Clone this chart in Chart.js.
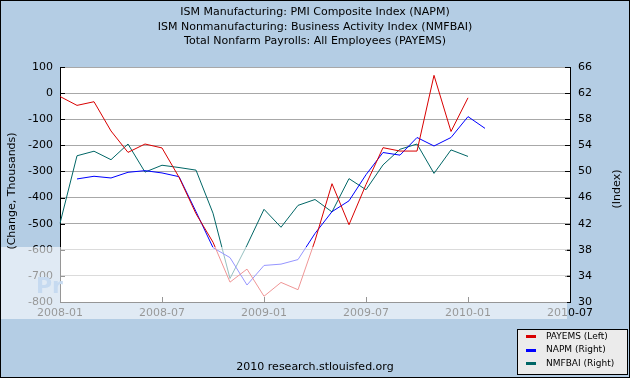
<!DOCTYPE html>
<html><head><meta charset="utf-8">
<script src="https://cdn.jsdelivr.net/npm/chart.js@4/dist/chart.umd.min.js"></script>
<style>html,body{margin:0;padding:0;background:#B4CDE4;}canvas{display:block}</style>
</head><body>
<canvas id="c" width="630" height="378"></canvas>
<script>
const months = ['2008-01','2008-02','2008-03','2008-04','2008-05','2008-06','2008-07','2008-08','2008-09','2008-10','2008-11','2008-12',
'2009-01','2009-02','2009-03','2009-04','2009-05','2009-06','2009-07','2009-08','2009-09','2009-10','2009-11','2009-12',
'2010-01','2010-02','2010-03','2010-04','2010-05','2010-06','2010-07'];
const tickLabels = ['2008-01','2008-07','2009-01','2009-07','2010-01','2010-07'];
const payems = [-13,-47,-33,-145,-227,-195,-210,-322,-462,-571,-724,-674,-778,-725,-753,-565,-347,-504,-350,-209,-222,-222,68,-147,-18];
const napm = [null,48.85,49.26,49.0,49.87,50.12,49.77,49.2,43.84,38.33,36.8,32.6,35.6,35.8,36.5,40.5,43.84,45.5,49.5,52.9,52.5,55.2,53.9,55.2,58.4,56.6];
const nmfbai = [42.05,52.4,53.1,51.8,54.2,49.9,50.95,50.6,50.2,43.6,33.6,38.7,44.2,41.45,44.8,45.7,43.8,48.9,47.2,51.0,53.4,54.2,49.7,53.3,52.3];
const titleLines = ['ISM Manufacturing: PMI Composite Index (NAPM)','ISM Nonmanufacturing: Business Activity Index (NMFBAI)','Total Nonfarm Payrolls: All Employees (PAYEMS)'];
const leftTitle = '(Change, Thousands)';
const rightTitle = '(Index)';
const footer = '2010 research.stlouisfed.org';
const colors = ['#D80000','#0000FF','#006666'];
const FONT = '"DejaVu Sans", Verdana, sans-serif';

const deco = {
  id: 'deco',
  beforeDraw(chart) {
    const {ctx, chartArea: a} = chart;
    ctx.save();
    ctx.fillStyle = '#B4CDE4';
    ctx.fillRect(0, 0, chart.width, chart.height);
    ctx.fillStyle = '#fff';
    ctx.fillRect(a.left, a.top, a.right - a.left, a.bottom - a.top);
    ctx.restore();
  },
  afterDatasetsDraw(chart) {
    const {ctx, chartArea: a, scales} = chart;
    ctx.save();
    ctx.strokeStyle = '#000';
    ctx.lineWidth = 1;
    ctx.beginPath();
    scales.yL.ticks.forEach((t, i) => {
      const y = Math.round(scales.yL.getPixelForTick(i)) + 0.5;
      ctx.moveTo(a.left, y); ctx.lineTo(a.left + 5, y);
    });
    scales.yR.ticks.forEach((t, i) => {
      const y = Math.round(scales.yR.getPixelForTick(i)) + 0.5;
      ctx.moveTo(a.right - 5, y); ctx.lineTo(a.right, y);
    });
    months.forEach((m, i) => {
      if (!tickLabels.includes(m)) return;
      const x = Math.round(scales.x.getPixelForValue(i)) + 0.5;
      ctx.moveTo(x, a.bottom); ctx.lineTo(x, a.bottom - 5);
    });
    ctx.stroke();
    ctx.restore();
  },
  afterDraw(chart) {
    const {ctx, chartArea: a} = chart;
    ctx.save();
    // lighter band
    ctx.fillStyle = 'rgba(255,255,255,0.59)';
    ctx.fillRect(0, 247, 567, 72);
    // watermark fragment
    ctx.fillStyle = '#C6DAF0';
    ctx.font = 'bold 22px ' + FONT;
    ctx.textBaseline = 'alphabetic';
    ctx.textAlign = 'left';
    ctx.fillText('Pr', 36, 293);
    // titles
    ctx.fillStyle = '#000';
    ctx.font = '11px ' + FONT;
    ctx.textAlign = 'center';
    ctx.textBaseline = 'middle';
    titleLines.forEach((t, i) => ctx.fillText(t, 315, 12.5 + i * 14.5));
    ctx.fillText(footer, 315, 367);
    // axis titles
    ctx.save();
    ctx.translate(12, 191); ctx.rotate(-Math.PI / 2);
    ctx.fillText(leftTitle, 0, 0);
    ctx.restore();
    ctx.save();
    ctx.translate(617, 189); ctx.rotate(-Math.PI / 2);
    ctx.fillText(rightTitle, 0, 0);
    ctx.restore();
    // legend
    ctx.fillStyle = '#EBEBEB';
    ctx.fillRect(517, 329, 110, 45);
    ctx.strokeStyle = '#000';
    ctx.lineWidth = 1;
    ctx.strokeRect(517.5, 329.5, 110, 45);
    ctx.font = '9px ' + FONT;
    ctx.textAlign = 'left';
    chart.data.datasets.forEach((d, i) => {
      const y = 336 + i * 13.5;
      ctx.fillStyle = d.borderColor;
      ctx.fillRect(526, Math.round(y) - 1, 10, 3);
      ctx.fillStyle = '#000';
      ctx.fillText(d.label, 546, y + 0.5);
    });
    // outer border
    ctx.strokeStyle = '#000';
    ctx.strokeRect(0.5, 0.5, 629, 377);
    ctx.restore();
  }
};

new Chart(document.getElementById('c'), {
  type: 'line',
  data: {
    labels: months,
    datasets: [
      {label: 'PAYEMS (Left)', data: payems, yAxisID: 'yL', borderColor: colors[0]},
      {label: 'NAPM (Right)', data: napm, yAxisID: 'yR', borderColor: colors[1]},
      {label: 'NMFBAI (Right)', data: nmfbai, yAxisID: 'yR', borderColor: colors[2]}
    ]
  },
  options: {
    responsive: false,
    animation: false,
    devicePixelRatio: 1,
    layout: {padding: {top: 67, bottom: 56, left: 0, right: 0}},
    elements: {point: {radius: 0}, line: {borderWidth: 1, tension: 0, fill: false}},
    plugins: {legend: {display: false}, title: {display: false}, tooltip: {enabled: false}},
    scales: {
      x: {
        type: 'category',
        grid: {display: false, drawTicks: false},
        border: {display: true, color: '#000'},
        ticks: {
          autoSkip: false, maxRotation: 0, minRotation: 0, padding: 5, color: '#000',
          font: {family: FONT, size: 11},
          callback: (v, i) => tickLabels.includes(months[i]) ? months[i] : ''
        },
        afterFit: s => { s.height = 20; }
      },
      yL: {
        position: 'left', min: -800, max: 100,
        ticks: {stepSize: 100, padding: 7, color: '#000', font: {family: FONT, size: 11}},
        grid: {color: '#A8A8A8', drawTicks: false},
        border: {color: '#000'},
        afterFit: s => { s.width = 60; }
      },
      yR: {
        position: 'right', min: 30, max: 66,
        ticks: {stepSize: 4, padding: 8, color: '#000', font: {family: FONT, size: 11}},
        grid: {drawOnChartArea: false, drawTicks: false},
        border: {color: '#000'},
        afterFit: s => { s.width = 60; }
      }
    }
  },
  plugins: [deco]
});
</script>
</body></html>
